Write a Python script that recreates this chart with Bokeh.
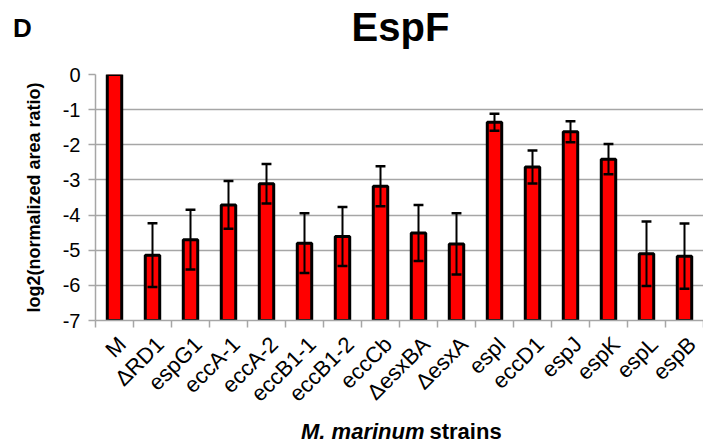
import numpy as np
from bokeh.plotting import figure
from bokeh.layouts import column, row
from bokeh.models import Range1d, FixedTicker, Label
from bokeh.embed import file_html
from bokeh.resources import INLINE

categories = ["M", "ΔRD1", "espG1", "eccA-1", "eccA-2", "eccB1-1", "eccB1-2", "eccCb",
              "ΔesxBA", "ΔesxA", "espI", "eccD1", "espJ", "espK", "espL", "espB"]
values = [0.0, -5.14, -4.70, -3.71, -3.11, -4.80, -4.61, -3.18,
          -4.51, -4.82, -1.36, -2.63, -1.63, -2.41, -5.10, -5.17]
errors = [0.0, 0.91, 0.85, 0.68, 0.56, 0.85, 0.84, 0.57,
          0.80, 0.87, 0.24, 0.47, 0.30, 0.43, 0.92, 0.93]
y_ticks = [0, -1, -2, -3, -4, -5, -6, -7]
y_tick_labels = ["0", "-1", "-2", "-3", "-4", "-5", "-6", "-7"]
panel_letter = "D"
chart_title = "EspF"
x_title_italic = "M. marinum"
x_title_plain = "strains"
y_title = "log2(normalized area ratio)"

FONT = "Liberation Sans"
GRID = "#a6a6a6"
W = 703


def strip(height):
    s = figure(width=W, height=height, x_range=Range1d(0, W), y_range=Range1d(height, 0),
               output_backend="svg", toolbar_location=None,
               x_axis_location=None, y_axis_location=None, min_border=0)
    s.outline_line_color = None
    s.grid.visible = False
    return s


# ---- top strip: panel letter and title
top = strip(60)
top.add_layout(Label(x=22, y=27, text=panel_letter, text_font=FONT, text_font_size="26px",
                     text_font_style="bold", text_color="black",
                     text_align="center", text_baseline="alphabetic"))
top.add_layout(Label(x=400, y=26, text=chart_title, text_font=FONT, text_font_size="40px",
                     text_font_style="bold", text_color="black",
                     text_align="center", text_baseline="alphabetic"))

# ---- main chart
n = len(categories)
xs = np.arange(n) + 0.5
vals = np.array(values)
errs = np.array(errors)
label_pos = xs + 0.2  # anchor of the slanted category labels

p = figure(width=W, height=360, x_range=Range1d(0, n), y_range=Range1d(-7, 0),
           output_backend="svg", toolbar_location=None,
           min_border_left=95, min_border_right=0, min_border_top=14, min_border_bottom=100)
p.outline_line_color = None

p.xgrid.grid_line_color = None
p.ygrid.grid_line_color = GRID
p.ygrid.grid_line_width = 1.5
p.ygrid.ticker = FixedTicker(ticks=y_ticks)

ya = p.yaxis[0]
ya.ticker = FixedTicker(ticks=y_ticks)
ya.major_label_overrides = {t: l for t, l in zip(y_ticks, y_tick_labels)}
ya.axis_line_color = GRID
ya.axis_line_width = 1.5
ya.major_tick_line_color = GRID
ya.major_tick_line_width = 1.5
ya.major_tick_out = 7
ya.major_tick_in = 0
ya.minor_tick_line_color = None
ya.major_label_text_font = FONT
ya.major_label_text_font_size = "20px"
ya.major_label_text_color = "black"
ya.major_label_standoff = 8
ya.axis_label = y_title
ya.axis_label_text_font = FONT
ya.axis_label_text_font_size = "18px"
ya.axis_label_text_font_style = "bold"
ya.axis_label_text_color = "black"
ya.axis_label_standoff = 16

xa = p.xaxis[0]
xa.ticker = FixedTicker(ticks=list(label_pos), minor_ticks=list(np.arange(n + 1)))
xa.major_label_overrides = {float(x): c for x, c in zip(label_pos, categories)}
xa.major_label_orientation = np.pi / 4
xa.axis_line_color = GRID
xa.axis_line_width = 1.5
xa.major_tick_line_color = None
xa.major_tick_out = 0
xa.minor_tick_line_color = GRID
xa.minor_tick_line_width = 1.5
xa.minor_tick_out = 7
xa.minor_tick_in = 0
xa.major_label_text_font = FONT
xa.major_label_text_font_size = "22px"
xa.major_label_text_color = "black"
xa.major_label_standoff = 13

p.vbar(x=xs, top=vals, bottom=-7, width=0.38, fill_color="#ff0000",
       line_color="black", line_width=3)

m = errs > 0
ex = xs[m]
hi = vals[m] + errs[m]
lo = vals[m] - errs[m]
p.segment(x0=ex, y0=lo, x1=ex, y1=hi, line_color="black", line_width=2)
cw = 0.13
p.segment(x0=ex - cw, y0=hi, x1=ex + cw, y1=hi, line_color="black", line_width=2.5)
p.segment(x0=ex - cw, y0=lo, x1=ex + cw, y1=lo, line_color="black", line_width=2.5)

# ---- bottom strip: x axis title
bottom = strip(26)
bottom.add_layout(Label(x=424, y=11, text=x_title_italic, text_font=FONT, text_font_size="22px",
                        text_font_style="bold italic", text_color="black", text_align="right",
                        text_baseline="alphabetic"))
bottom.add_layout(Label(x=429, y=11, text=x_title_plain, text_font=FONT, text_font_size="22px",
                        text_font_style="bold", text_color="black", text_align="left",
                        text_baseline="alphabetic"))

layout = column(row(top), p, row(bottom), spacing=0)
open("out.html", "w").write(file_html(layout, INLINE))
